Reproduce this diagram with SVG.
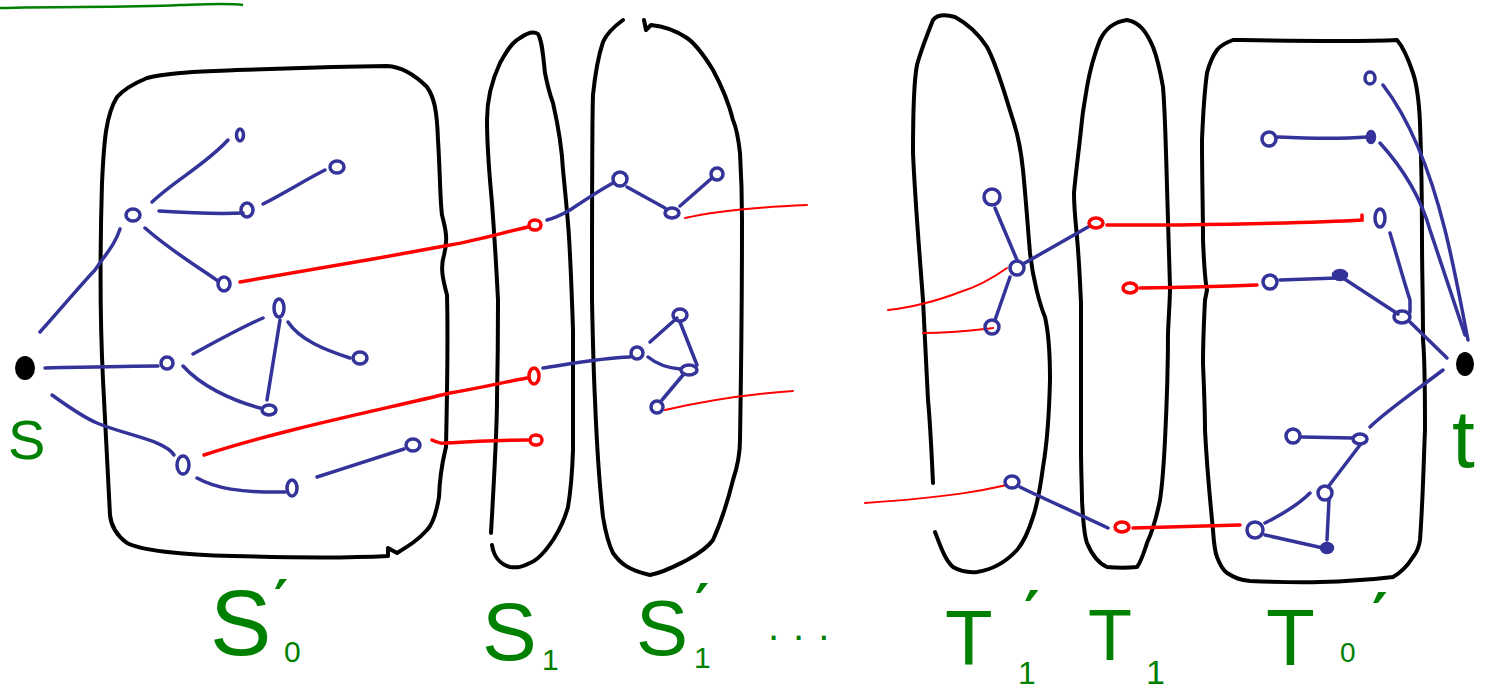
<svg xmlns="http://www.w3.org/2000/svg" width="1496" height="689" viewBox="0 0 1496 689">
<style>
.box{fill:none;stroke:#000;stroke-width:4;stroke-linecap:round;stroke-linejoin:round}
.e{fill:none;stroke:#333399;stroke-width:3.5;stroke-linecap:round}
.r{fill:none;stroke:#ff0000;stroke-width:3.5;stroke-linecap:round}
.rt{fill:none;stroke:#ff0000;stroke-width:2;stroke-linecap:round}
.bn{fill:none;stroke:#333399;stroke-width:3.5}
.bf{fill:#333399;stroke:#333399;stroke-width:2.5}
.rn{fill:none;stroke:#ff0000;stroke-width:3.5}
.lab{fill:#008000;font-family:"Liberation Sans","DejaVu Sans",sans-serif}
.pr{fill:#008000;font-family:"DejaVu Sans",sans-serif;font-weight:bold}
</style>
<rect width="1496" height="689" fill="#fff"/>
<path d="M0,8 C60,6 120,8 180,5 C210,4 230,3 243,5" fill="none" stroke="#008000" stroke-width="2.5"/>
<g id="regions">
<path id="box-S0p" class="box" d="M147,78 C170,72 200,72 237,70 L333,67 L387,66 C405,67 420,80 427,87 C434,97 437,110 438,140 C440,170 440,200 442,215 C446,230 448,240 444,255 C440,268 443,280 447,295 C448,330 447,400 446,447 C443,460 440,470 439,497 C436,515 432,525 427,530 C418,540 410,545 397,553 L388,548 L388,556 C350,558 300,558 233,556 C180,555 140,550 127,543 C116,535 111,525 110,515 L103,380 C100,320 100,250 102,183 C104,140 106,115 117,97 C125,88 135,83 147,78 Z"/>
<path id="box-S1" class="box" d="M491,533 C494,480 497,430 497,400 C498,350 498,320 498,300 C496,260 494,230 492,203 C489,170 487,150 487,120 C487,100 492,80 500,63 C506,52 512,42 520,38 C527,33 534,31 538,34 C542,40 543,55 545,73 C548,88 550,95 553,103 C558,125 562,150 563,170 C566,200 568,220 569,237 C571,270 572,300 573,330 L573,450 C572,480 570,495 568,507 C563,525 558,532 553,540 C545,552 538,560 530,563 C522,567 518,568 510,567 C500,564 494,558 492,545"/>
<path id="box-S1p" class="box" d="M623,20 C612,28 606,35 603,42 C597,60 595,75 593,95 C592,120 592,200 592,300 C593,350 594,380 595,400 C597,450 600,490 603,517 C606,535 609,545 613,553 C620,563 628,570 650,575 C665,572 677,565 687,560 C700,553 708,547 713,540 C722,520 728,500 733,480 C738,465 740,455 740,440 C741,380 742,320 742,220 C742,190 741,170 740,153 C738,135 736,127 733,120 C728,100 720,83 713,70 C705,57 697,45 687,38 C675,30 662,26 651,25 L646,30 L644,20"/>
<path id="box-T1p" class="box" d="M933,483 C931,440 929,410 928,400 C926,360 924,320 923,300 C920,260 915,200 913,153 C913,110 914,80 917,65 C921,50 927,35 933,20 C937,15 944,14 955,17 C968,24 980,36 987,47 C997,65 1005,95 1013,120 C1018,135 1021,150 1023,170 C1026,200 1028,230 1030,253 C1033,280 1040,305 1045,317 C1048,330 1050,355 1050,380 C1049,420 1046,450 1043,467 C1040,490 1037,505 1033,517 C1028,533 1023,543 1017,550 C1005,563 990,570 977,572 C965,573 958,570 953,567 C945,560 940,545 935,532"/>
<path id="box-T1" class="box" d="M1127,20 C1112,22 1105,30 1100,40 C1094,55 1090,70 1087,87 C1085,100 1083,110 1082,120 C1079,150 1076,170 1074,193 C1074,210 1076,225 1077,237 C1079,260 1080,280 1081,303 L1081,450 C1081,470 1082,490 1082,500 C1083,520 1084,535 1087,543 C1092,555 1098,563 1107,567 C1117,568 1128,568 1137,567 C1142,560 1144,552 1147,543 C1153,530 1157,515 1160,500 C1163,480 1164,460 1165,440 C1167,400 1168,370 1168,333 C1169,310 1170,300 1170,287 L1167,187 C1166,150 1165,110 1163,87 C1160,70 1157,57 1153,47 C1147,33 1140,22 1127,20 Z"/>
<path id="box-T0p" class="box" d="M1233,40 C1225,43 1220,46 1217,50 C1212,57 1209,65 1207,73 C1204,95 1203,115 1202,140 C1202,180 1203,210 1203,240 C1204,265 1205,280 1207,290 L1205,300 C1204,320 1203,340 1203,363 C1204,390 1205,410 1205,430 C1207,470 1210,500 1213,530 C1214,545 1215,552 1217,557 C1220,565 1223,570 1227,573 C1235,578 1240,580 1250,581 C1300,583 1340,583 1393,577 C1402,572 1408,565 1413,557 C1417,552 1419,547 1420,540 C1423,500 1424,450 1425,430 C1425,380 1424,350 1423,340 C1423,300 1422,270 1422,240 C1422,190 1421,150 1420,123 C1419,100 1417,85 1413,73 C1408,58 1403,47 1397,40 C1360,42 1300,41 1233,40 Z"/>
</g>
<g id="connectors">
<path class="e" d="M40,332 C60,310 85,280 95,270 C105,255 115,245 120,229"/>
<path class="e" d="M152,202 C175,180 205,165 228,140"/>
<path class="e" d="M159,211 C190,213 220,214 243,213"/>
<path class="e" d="M263,204 C285,193 305,180 325,170"/>
<path class="e" d="M145,228 C170,250 195,265 218,281"/>
<path class="e" d="M45,368 C90,367 130,366 158,366"/>
<path class="e" d="M193,354 C215,342 240,328 263,318"/>
<path class="e" d="M288,322 C300,340 325,350 350,358"/>
<path class="e" d="M280,320 L267,400"/>
<path class="e" d="M183,366 C200,385 230,400 260,408"/>
<path class="e" d="M52,395 C70,408 85,418 97,423 C125,435 165,440 174,455"/>
<path class="e" d="M197,478 C215,488 240,493 285,492"/>
<path class="e" d="M317,477 C345,468 370,460 404,449"/>
<path class="e" d="M543,368 C570,364 600,358 630,357"/>
<path class="e" d="M650,342 L677,318"/>
<path class="e" d="M680,322 L697,365"/>
<path class="e" d="M648,357 C658,365 668,368 680,369"/>
<path class="e" d="M683,375 L662,400"/>
<path class="e" d="M547,220 C555,218 563,214 570,210 C585,200 600,190 613,183"/>
<path class="e" d="M627,187 L665,208"/>
<path class="e" d="M680,206 L712,178"/>
<path class="e" d="M995,208 L1017,260"/>
<path class="e" d="M1023,264 L1088,227"/>
<path class="e" d="M1010,277 L995,320"/>
<path class="e" d="M1020,487 C1040,497 1070,510 1108,528"/>
<path class="e" d="M1278,137 C1300,138 1340,139 1367,137"/>
<path class="e" d="M1280,280 L1337,278"/>
<path class="e" d="M1343,278 L1398,314"/>
<path class="e" d="M1390,233 C1398,260 1405,285 1410,300 L1410,312"/>
<path class="e" d="M1410,322 L1447,358"/>
<path class="e" d="M1383,85 C1410,120 1430,170 1445,230 C1455,270 1462,310 1468,340"/>
<path class="e" d="M1380,143 C1400,165 1420,195 1430,230 C1445,275 1455,305 1465,335"/>
<path class="e" d="M1443,370 C1410,395 1385,412 1370,427"/>
<path class="e" d="M1302,437 L1352,438"/>
<path class="e" d="M1360,445 L1328,487"/>
<path class="e" d="M1329,500 L1327,540"/>
<path class="e" d="M1265,535 L1323,548"/>
<path class="e" d="M1265,523 C1285,513 1300,503 1310,493"/>
<path class="r" d="M240,282 C300,272 380,258 450,245 C480,240 505,232 528,227"/>
<path class="r" d="M204,455 C280,430 380,410 450,393 C480,388 505,382 527,378"/>
<path class="r" d="M432,440 C438,443 442,444 447,443 C475,441 500,440 528,440"/>
<path class="rt" d="M685,218 C720,210 760,207 807,205"/>
<path class="rt" d="M665,410 C700,402 737,395 793,391"/>
<path class="rt" d="M1007,268 C990,280 977,287 960,292 C940,300 910,308 888,310"/>
<path class="rt" d="M993,328 C975,330 955,333 923,333"/>
<path class="r" stroke-width="3" d="M1107,225 L1180,225 C1250,224 1330,222 1362,220 L1362,215"/>
<path class="r" stroke-width="3" d="M1140,288 C1200,287 1230,286 1257,285"/>
<path class="rt" d="M1007,485 C985,490 953,497 865,503"/>
<path class="r" stroke-width="3" d="M1133,528 L1240,525"/>
</g>
<g id="node-s"><ellipse cx="25" cy="368" rx="10" ry="12" fill="#000"/><text class="lab" x="8" y="459" font-size="56">S</text></g>
<g id="node-t"><ellipse cx="1465" cy="364" rx="9" ry="12" fill="#000"/><text class="lab" x="1452" y="467" font-size="82">t</text></g>
<g id="node-a"><ellipse class="bn" cx="133" cy="215" rx="7" ry="6" stroke-width="4.5"/></g>
<g id="node-b"><ellipse class="bn" cx="240" cy="135" rx="3.5" ry="6"/></g>
<g id="node-c"><ellipse class="bn" cx="337" cy="167" rx="7" ry="6"/></g>
<g id="node-d"><ellipse class="bn" cx="247" cy="210" rx="6" ry="7"/></g>
<g id="node-e"><ellipse class="bn" cx="224" cy="284" rx="6" ry="7"/></g>
<g id="node-f"><ellipse class="bn" cx="167" cy="363" rx="6" ry="6"/></g>
<g id="node-g"><ellipse class="bn" cx="279" cy="308" rx="5" ry="9"/></g>
<g id="node-h"><ellipse class="bn" cx="360" cy="358" rx="7" ry="6"/></g>
<g id="node-i"><ellipse class="bn" cx="269" cy="410" rx="7" ry="5"/></g>
<g id="node-j"><ellipse class="bn" cx="183" cy="465" rx="6" ry="9"/></g>
<g id="node-k"><ellipse class="bn" cx="292" cy="488" rx="5" ry="8"/></g>
<g id="node-l"><ellipse class="bn" cx="413" cy="445" rx="7" ry="6"/></g>
<g id="node-r1"><ellipse class="rn" cx="535" cy="225" rx="6" ry="5"/></g>
<g id="node-r2"><ellipse class="rn" cx="534" cy="376" rx="5" ry="8"/></g>
<g id="node-r3"><ellipse class="rn" cx="536" cy="440" rx="6" ry="5"/></g>
<g id="node-m1"><ellipse class="bn" cx="620" cy="179" rx="7" ry="7"/></g>
<g id="node-m2"><ellipse class="bn" cx="672" cy="213" rx="7" ry="5"/></g>
<g id="node-m3"><ellipse class="bn" cx="717" cy="174" rx="6" ry="6"/></g>
<g id="node-m4"><ellipse class="bn" cx="637" cy="353" rx="6" ry="6"/></g>
<g id="node-m5"><ellipse class="bn" cx="680" cy="315" rx="7" ry="6"/></g>
<g id="node-m6"><ellipse class="bn" cx="689" cy="370" rx="8" ry="5"/></g>
<g id="node-m7"><ellipse class="bn" cx="657" cy="407" rx="6" ry="6"/></g>
<g id="node-p1"><ellipse class="bn" cx="992" cy="197" rx="8" ry="8"/></g>
<g id="node-p2"><ellipse class="bn" cx="1017" cy="268" rx="7" ry="7"/></g>
<g id="node-p3"><ellipse class="bn" cx="992" cy="327" rx="7" ry="7"/></g>
<g id="node-p4"><ellipse class="bn" cx="1012" cy="482" rx="7" ry="6"/></g>
<g id="node-o"><ellipse class="rn" cx="1096" cy="223" rx="7" ry="5"/></g>
<g id="node-q"><ellipse class="rn" cx="1130" cy="288" rx="7" ry="5"/></g>
<g id="node-hh"><ellipse class="rn" cx="1122" cy="527" rx="7" ry="5"/></g>
<g id="node-u"><ellipse class="bn" cx="1370" cy="78" rx="5" ry="6"/></g>
<g id="node-v"><ellipse class="bn" cx="1269" cy="139" rx="7" ry="7"/></g>
<g id="node-w"><ellipse class="bf" cx="1371" cy="137" rx="4" ry="6"/></g>
<g id="node-x"><ellipse class="bn" cx="1380" cy="218" rx="5" ry="9"/></g>
<g id="node-y"><ellipse class="bn" cx="1270" cy="282" rx="7" ry="7"/></g>
<g id="node-z"><ellipse class="bf" cx="1340" cy="275" rx="7" ry="5"/></g>
<g id="node-aa"><ellipse class="bn" cx="1402" cy="317" rx="8" ry="6"/></g>
<g id="node-bb"><ellipse class="bn" cx="1360" cy="439" rx="7" ry="5"/></g>
<g id="node-cc"><ellipse class="bn" cx="1293" cy="436" rx="7" ry="7"/></g>
<g id="node-dd"><ellipse class="bn" cx="1325" cy="493" rx="7" ry="7"/></g>
<g id="node-ee"><ellipse class="bf" cx="1327" cy="548" rx="6" ry="5"/></g>
<g id="node-ff"><ellipse class="bn" cx="1255" cy="530" rx="8" ry="8"/></g>
<g id="labels">
<text class="lab" x="210" y="655" font-size="92">S</text><text class="pr" x="274" y="618" font-size="54">′</text><text class="lab" x="284" y="662" font-size="30">0</text>
<text class="lab" x="482" y="660" font-size="82">S</text><text class="lab" x="542" y="670" font-size="30">1</text>
<text class="lab" x="636" y="655" font-size="78">S</text><text class="pr" x="695" y="622" font-size="54">′</text><text class="lab" x="694" y="668" font-size="30">1</text>
<text class="lab" x="768" y="640" font-size="40" letter-spacing="14">...</text>
<text class="lab" x="945" y="665" font-size="78">T</text><text class="pr" x="1024" y="634" font-size="60">′</text><text class="lab" x="1018" y="684" font-size="32">1</text>
<text class="lab" x="1088" y="660" font-size="72">T</text><text class="lab" x="1146" y="684" font-size="34">1</text>
<text class="lab" x="1266" y="665" font-size="80">T</text><text class="lab" x="1340" y="662" font-size="28">0</text><text class="pr" x="1372" y="636" font-size="60">′</text>
</g>
</svg>
